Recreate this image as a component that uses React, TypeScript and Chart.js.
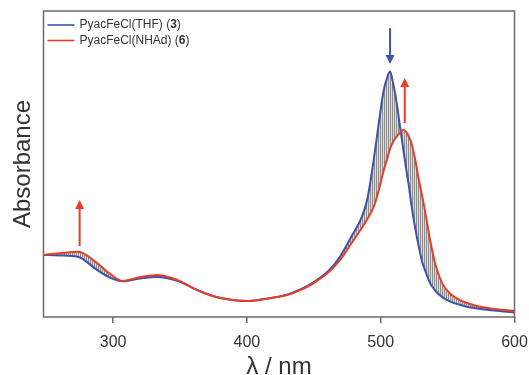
import React, { useEffect, useRef } from "react";
import { Chart, registerables } from "chart.js";

Chart.register(...registerables);

// wavelengths (nm)
const wavelengths = [
  248, 260, 274, 288, 298, 307, 320, 333, 348, 363, 375, 388, 401, 415, 430, 440, 450, 462, 470, 478,
  485, 490, 495, 498, 502, 505, 507, 509, 511, 513, 515, 517, 519, 521, 523, 526, 528, 531, 533, 537,
  541, 546, 552, 559, 565, 572, 581, 590, 600,
];

// PyacFeCl(THF) (3) – blue
const thfAbs = [
  0.203, 0.201, 0.196, 0.154, 0.128, 0.117, 0.126, 0.131, 0.118, 0.088, 0.068, 0.056, 0.052, 0.06, 0.073,
  0.09, 0.114, 0.155, 0.2, 0.262, 0.318, 0.385, 0.52, 0.615, 0.735, 0.785, 0.802, 0.77, 0.725, 0.668, 0.605,
  0.545, 0.485, 0.43, 0.365, 0.285, 0.24, 0.18, 0.155, 0.11, 0.085, 0.065, 0.05, 0.04, 0.033, 0.028, 0.023,
  0.019, 0.015,
];

// PyacFeCl(NHAd) (6) – red
const nhadAbs = [
  0.203, 0.208, 0.213, 0.176, 0.14, 0.118, 0.13, 0.137, 0.121, 0.088, 0.068, 0.056, 0.052, 0.06, 0.072,
  0.088, 0.111, 0.15, 0.188, 0.24, 0.285, 0.32, 0.362, 0.405, 0.475, 0.52, 0.55, 0.57, 0.585, 0.595, 0.605,
  0.612, 0.605, 0.59, 0.568, 0.51, 0.46, 0.395, 0.35, 0.25, 0.17, 0.11, 0.076, 0.056, 0.045, 0.036, 0.029,
  0.024, 0.02,
];

const xTickValues = [300, 400, 500, 600];

// arrows (nm, absorbance from -> to)
const arrowX = [275, 507, 518];
const arrowFrom = [0.232, 0.944, 0.634];
const arrowTo = [0.382, 0.827, 0.781];

const BLUE = "rgb(62,82,168)";
const RED = "rgb(232,62,40)";
const AXIS = "#6a6a6a";
const TEXT = "#333333";
const FONT = "'Liberation Sans', Arial, Helvetica, sans-serif";

const legendItems = [
  { pre: "PyacFeCl(THF) (", num: "3", post: ")", color: BLUE },
  { pre: "PyacFeCl(NHAd) (", num: "6", post: ")", color: RED },
];
const arrowColors = [RED, BLUE, RED];

export default function App() {
  const ref = useRef<HTMLCanvasElement | null>(null);

  useEffect(() => {
    const canvas = ref.current;
    if (!canvas) return;

    const pc = document.createElement("canvas");
    pc.width = 2;
    pc.height = 2;
    const pctx = pc.getContext("2d")!;
    pctx.fillStyle = "rgba(195,195,195,0.55)";
    pctx.fillRect(0, 0, 2, 2);
    pctx.fillStyle = "rgba(85,85,85,0.6)";
    pctx.fillRect(0, 0, 1, 2);
    const pattern = canvas.getContext("2d")!.createPattern(pc, "repeat");

    const boxPlugin = {
      id: "box",
      afterDatasetsDraw(chart: any) {
        const { ctx, chartArea: a, scales } = chart;
        const xs = scales.x;
        const ys = scales.y;
        ctx.save();
        // arrows
        for (let i = 0; i < arrowX.length; i++) {
          const x = xs.getPixelForValue(arrowX[i]);
          const y0 = ys.getPixelForValue(arrowFrom[i]);
          const y1 = ys.getPixelForValue(arrowTo[i]);
          const dir = y1 < y0 ? -1 : 1;
          const head = 9;
          ctx.strokeStyle = arrowColors[i];
          ctx.fillStyle = arrowColors[i];
          ctx.lineWidth = 2;
          ctx.beginPath();
          ctx.moveTo(x, y0);
          ctx.lineTo(x, y1 - dir * head * 0.8);
          ctx.stroke();
          ctx.beginPath();
          ctx.moveTo(x, y1);
          ctx.lineTo(x - 4.5, y1 - dir * head);
          ctx.lineTo(x + 4.5, y1 - dir * head);
          ctx.closePath();
          ctx.fill();
        }
        // legend
        const fs = 12;
        ctx.textBaseline = "middle";
        legendItems.forEach((it, i) => {
          const y = a.top + 14 + i * 15.5;
          ctx.strokeStyle = it.color;
          ctx.lineWidth = 1.6;
          ctx.beginPath();
          ctx.moveTo(a.left + 4, y);
          ctx.lineTo(a.left + 31, y);
          ctx.stroke();
          let x = a.left + 36;
          ctx.fillStyle = TEXT;
          ctx.font = `${fs}px ${FONT}`;
          ctx.fillText(it.pre, x, y);
          x += ctx.measureText(it.pre).width;
          ctx.font = `bold ${fs}px ${FONT}`;
          ctx.fillText(it.num, x, y);
          x += ctx.measureText(it.num).width;
          ctx.font = `${fs}px ${FONT}`;
          ctx.fillText(it.post, x, y);
        });
        // frame
        ctx.strokeStyle = AXIS;
        ctx.lineWidth = 1.5;
        ctx.strokeRect(a.left, a.top, a.right - a.left, a.bottom - a.top);
        ctx.restore();
      },
    };

    const chart = new Chart(canvas, {
      type: "line",
      data: {
        datasets: [
          {
            label: "PyacFeCl(NHAd) (6)",
            data: wavelengths.map((w, i) => ({ x: w, y: nhadAbs[i] })),
            borderColor: RED,
            borderWidth: 2,
            pointRadius: 0,
            cubicInterpolationMode: "monotone",
            fill: false,
          },
          {
            label: "PyacFeCl(THF) (3)",
            data: wavelengths.map((w, i) => ({ x: w, y: thfAbs[i] })),
            borderColor: BLUE,
            borderWidth: 2,
            pointRadius: 0,
            cubicInterpolationMode: "monotone",
            fill: "-1",
            backgroundColor: pattern as any,
          },
        ],
      },
      options: {
        animation: false,
        responsive: false,
        layout: { padding: { top: 11, left: 0, right: 45.5, bottom: 0 } },
        plugins: { legend: { display: false }, tooltip: { enabled: false } },
        scales: {
          x: {
            type: "linear",
            min: 248,
            max: 600,
            afterBuildTicks: (s: any) => {
              s.ticks = xTickValues.map((v) => ({ value: v }));
            },
            afterFit: (s: any) => {
              s.height = 78;
            },
            border: { display: false },
            grid: {
              drawOnChartArea: false,
              drawTicks: true,
              tickLength: 6,
              color: AXIS,
              lineWidth: 1.5,
            },
            ticks: {
              color: TEXT,
              font: { family: FONT, size: 16 },
              padding: 10,
              maxRotation: 0,
              autoSkip: false,
            },
            title: {
              display: true,
              text: "λ / nm",
              color: TEXT,
              font: { family: FONT, size: 24 },
              padding: { top: 0, bottom: 13 },
            },
          },
          y: {
            min: 0,
            max: 1,
            afterFit: (s: any) => {
              s.width = 43.5;
            },
            border: { display: false },
            grid: { display: false },
            ticks: { display: false },
            title: {
              display: true,
              text: "Absorbance",
              color: TEXT,
              font: { family: FONT, size: 24 },
              padding: { top: 8.6, bottom: 0 },
            },
          },
        },
      },
      plugins: [boxPlugin],
    });

    return () => chart.destroy();
  }, []);

  return (
    <div
      style={{
        position: "fixed",
        left: 0,
        top: 0,
        width: 529,
        height: 375,
        overflow: "hidden",
        background: "#fff",
      }}
    >
      <canvas ref={ref} width={560} height={395} style={{ display: "block" }} />
    </div>
  );
}
